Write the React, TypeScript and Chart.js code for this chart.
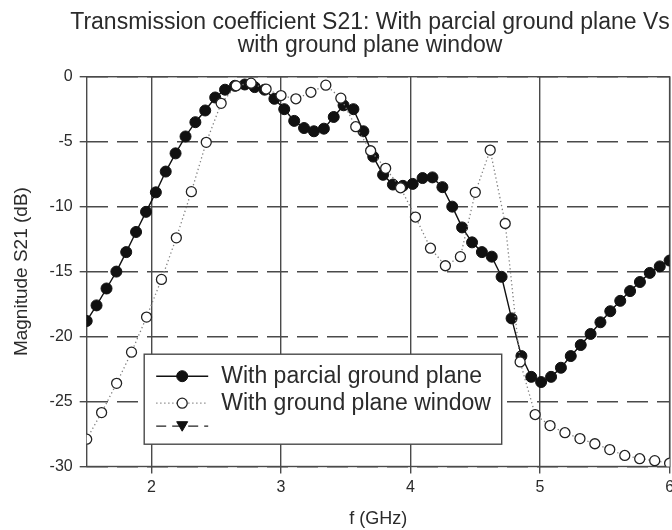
import React, { useEffect, useRef } from "react";
import { Chart, registerables } from "chart.js";

Chart.register(...registerables);

const TITLE_LINES = [
  "Transmission coefficient S21: With parcial ground plane Vs",
  "with ground plane window",
];
const X_TITLE = "f (GHz)";
const Y_TITLE = "Magnitude S21 (dB)";
const SERIES_NAMES = ["With parcial ground plane", "With ground plane window", ""];

const X_MIN = 1.5;
const X_MAX = 6;
const X_STEP = 1;
const Y_MIN = -30;
const Y_MAX = 0;
const Y_STEP = 5;

const freqPartial = [
  1.5, 1.576, 1.653, 1.729, 1.805, 1.881, 1.958, 2.034, 2.11, 2.186,
  2.263, 2.339, 2.415, 2.492, 2.568, 2.644, 2.72, 2.797, 2.873, 2.949,
  3.025, 3.102, 3.178, 3.254, 3.331, 3.407, 3.483, 3.559, 3.636, 3.712,
  3.788, 3.864, 3.941, 4.017, 4.093, 4.169, 4.246, 4.322, 4.398, 4.475,
  4.551, 4.627, 4.703, 4.78, 4.856, 4.932, 5.008, 5.085, 5.161, 5.237,
  5.314, 5.39, 5.466, 5.542, 5.619, 5.695, 5.771, 5.847, 5.924, 6.0,
];
const s21Partial = [
  -18.8, -17.6, -16.3, -15.0, -13.5, -11.95, -10.4, -8.9, -7.3, -5.9,
  -4.6, -3.5, -2.6, -1.6, -1.0, -0.7, -0.6, -0.8, -1.0, -1.7,
  -2.5, -3.4, -3.95, -4.2, -4.0, -3.1, -2.2, -2.5, -4.2, -6.15,
  -7.55, -8.3, -8.4, -8.25, -7.8, -7.75, -8.5, -10.0, -11.6, -12.75,
  -13.5, -13.85, -15.4, -18.6, -21.5, -23.1, -23.5, -23.1, -22.4, -21.5,
  -20.65, -19.8, -18.9, -18.05, -17.25, -16.5, -15.8, -15.1, -14.6, -14.15,
];
const freqWindow = [
  1.5, 1.615, 1.731, 1.846, 1.962, 2.077, 2.192, 2.308, 2.423, 2.538,
  2.654, 2.769, 2.885, 3.0, 3.115, 3.231, 3.346, 3.462, 3.577, 3.692,
  3.808, 3.923, 4.038, 4.154, 4.269, 4.385, 4.5, 4.615, 4.731, 4.846,
  4.962, 5.077, 5.192, 5.308, 5.423, 5.538, 5.654, 5.769, 5.885, 6.0,
];
const s21Window = [
  -27.9, -25.85, -23.6, -21.2, -18.5, -15.6, -12.4, -8.85, -5.05, -2.05,
  -0.7, -0.5, -0.95, -1.45, -1.7, -1.2, -0.65, -1.65, -3.85, -5.7,
  -7.05, -8.55, -10.8, -13.2, -14.55, -13.85, -8.9, -5.65, -11.3, -21.95,
  -26.0, -26.85, -27.4, -27.85, -28.25, -28.7, -29.15, -29.4, -29.55, -29.75,
];

const FONT = "'Liberation Sans', Arial, Helvetica, sans-serif";
const INK = "#2b2b2b";
const GRID = "#4a4a4a";
const CANVAS_W = 740;
const CANVAS_H = 530;

const titlePlugin = {
  id: "twoLineTitle",
  afterDraw(chart: any) {
    const ctx = chart.ctx;
    ctx.save();
    ctx.fillStyle = INK;
    ctx.font = `23px ${FONT}`;
    ctx.textAlign = "center";
    ctx.textBaseline = "middle";
    const cx = chart.width / 2;
    TITLE_LINES.forEach((t, i) => ctx.fillText(t, cx, 23 + i * 22.5));
    ctx.restore();
  },
};

const framePlugin = {
  id: "frame",
  beforeDatasetsDraw(chart: any) {
    const { ctx, chartArea: a } = chart;
    ctx.save();
    ctx.setLineDash([]);
    ctx.strokeStyle = GRID;
    ctx.lineWidth = 1.4;
    ctx.strokeRect(a.left, a.top, a.right - a.left, a.bottom - a.top);
    ctx.restore();
  },
};

const legendPlugin = {
  id: "boxLegend",
  afterDatasetsDraw(chart: any) {
    const { ctx, chartArea: a } = chart;
    const left = a.left + 57.5;
    const top = a.top + 277.5;
    const right = a.left + 415;
    const bottom = a.top + 367.5;
    ctx.save();
    ctx.setLineDash([]);
    ctx.fillStyle = "#ffffff";
    ctx.fillRect(left, top, right - left, bottom - top);
    ctx.strokeStyle = GRID;
    ctx.lineWidth = 1.4;
    ctx.strokeRect(left, top, right - left, bottom - top);

    const rows = [top + 22, top + 49, top + 72];
    const x0 = left + 12;
    const x1 = left + 64;
    const xm = (x0 + x1) / 2;
    const ds = chart.data.datasets;
    rows.forEach((y, i) => {
      const d = ds[i];
      ctx.save();
      ctx.strokeStyle = d.borderColor;
      ctx.lineWidth = d.borderWidth;
      ctx.setLineDash(d.borderDash || []);
      ctx.beginPath();
      ctx.moveTo(x0, y);
      ctx.lineTo(x1, y);
      ctx.stroke();
      ctx.setLineDash([]);
      ctx.fillStyle = d.pointBackgroundColor;
      ctx.strokeStyle = d.pointBorderColor;
      ctx.lineWidth = d.pointBorderWidth;
      ctx.beginPath();
      if (d.pointStyle === "triangle") {
        ctx.moveTo(xm - 5.5, y - 4.5);
        ctx.lineTo(xm + 5.5, y - 4.5);
        ctx.lineTo(xm, y + 5);
        ctx.closePath();
      } else {
        ctx.arc(xm, y, d.pointRadius, 0, Math.PI * 2);
      }
      ctx.fill();
      ctx.stroke();
      ctx.restore();
      ctx.fillStyle = INK;
      ctx.font = `23px ${FONT}`;
      ctx.textAlign = "left";
      ctx.textBaseline = "middle";
      ctx.fillText(d.label, left + 77, y);
    });
    ctx.restore();
  },
};

export default function App() {
  const canvasRef = useRef<HTMLCanvasElement | null>(null);

  useEffect(() => {
    document.body.style.margin = "0";
    document.body.style.overflow = "hidden";
    const canvas = canvasRef.current;
    if (!canvas) return;
    const chart = new Chart(canvas, {
      type: "line",
      data: {
        datasets: [
          {
            label: SERIES_NAMES[0],
            data: freqPartial.map((f, i) => ({ x: f, y: s21Partial[i] })),
            borderColor: "#111111",
            borderWidth: 1.4,
            borderDash: [],
            pointRadius: 5.5,
            pointBackgroundColor: "#111111",
            pointBorderColor: "#111111",
            pointBorderWidth: 1,
            tension: 0,
            order: 1,
          },
          {
            label: SERIES_NAMES[1],
            data: freqWindow.map((f, i) => ({ x: f, y: s21Window[i] })),
            borderColor: "#808080",
            borderWidth: 1.3,
            borderDash: [1.3, 2.7],
            pointRadius: 5,
            pointBackgroundColor: "#ffffff",
            pointBorderColor: "#222222",
            pointBorderWidth: 1.3,
            tension: 0,
            order: 0,
          },
          {
            label: SERIES_NAMES[2],
            data: [],
            borderColor: "#222222",
            borderWidth: 1.3,
            borderDash: [10, 6],
            pointStyle: "triangle",
            pointRadius: 5,
            pointBackgroundColor: "#111111",
            pointBorderColor: "#111111",
            pointBorderWidth: 1,
            order: 2,
          },
        ] as any,
      },
      options: {
        responsive: false,
        animation: false,
        devicePixelRatio: 1,
        layout: { padding: { top: 76.7, right: CANVAS_W - 669.6, left: 0, bottom: 0 } },
        plugins: {
          legend: { display: false },
          title: { display: false },
          tooltip: { enabled: false },
        },
        scales: {
          x: {
            type: "linear",
            min: X_MIN,
            max: X_MAX,
            ticks: {
              stepSize: X_STEP,
              includeBounds: false,
              padding: 4,
              color: INK,
              font: { family: FONT, size: 16 },
              maxRotation: 0,
              autoSkip: false,
            },
            grid: { color: GRID, lineWidth: 1.4, tickLength: 7, drawTicks: true },
            border: { display: false },
            title: {
              display: true,
              text: X_TITLE,
              color: INK,
              font: { family: FONT, size: 18 },
              padding: { top: 0, bottom: 0 },
            },
            afterFit: (s: any) => {
              s.height = CANVAS_H - 466.5;
            },
          },
          y: {
            type: "linear",
            min: Y_MIN,
            max: Y_MAX,
            ticks: {
              stepSize: Y_STEP,
              padding: 7,
              color: INK,
              font: { family: FONT, size: 16 },
            },
            grid: { color: GRID, lineWidth: 1.4, tickLength: 7, drawTicks: true, tickBorderDash: [] },
            border: { display: false, dash: [21, 9] },
            title: {
              display: true,
              text: Y_TITLE,
              color: INK,
              font: { family: FONT, size: 19 },
              padding: { top: 10, bottom: 0 },
            },
            afterFit: (s: any) => {
              s.width = 86.7;
            },
          },
        } as any,
      },
      plugins: [framePlugin, legendPlugin, titlePlugin],
    });
    return () => chart.destroy();
  }, []);

  return (
    <div style={{ width: 672, height: CANVAS_H, overflow: "hidden", position: "relative" }}>
      <canvas ref={canvasRef} width={CANVAS_W} height={CANVAS_H} style={{ display: "block" }} />
    </div>
  );
}
